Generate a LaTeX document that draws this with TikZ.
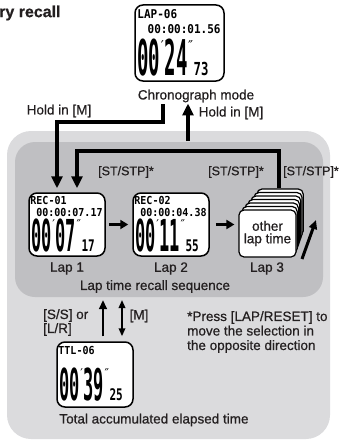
\documentclass[tikz,border=0pt]{standalone}
\usepackage{fontspec}
\usepackage{graphicx}
\setmainfont{Liberation Sans}[FakeBold=0.7]
\newfontfamily\lcdfont{DejaVu Sans Mono}
\newfontfamily\markfont{DejaVu Sans}
\usetikzlibrary{arrows.meta}

\definecolor{outerbg}{RGB}{219,219,221}
\definecolor{innerbg}{RGB}{191,191,194}
\definecolor{ink}{RGB}{35,31,32}

% segment-display style digits
\newcommand\lcdbig[1]{\scalebox{0.85}[2.2]{\fontsize{20}{20}\selectfont\lcdfont\bfseries #1}}
\newcommand\lcdsmall[1]{\scalebox{1.1}[1.6]{\fontsize{10}{10}\selectfont\lcdfont\bfseries #1}}
\newcommand\lcdmark[1]{\hspace{0.5pt}\raisebox{23pt}{\fontsize{12}{12}\selectfont\markfont #1}\hspace{0.5pt}}
\newcommand\lcdline[1]{\scalebox{1}[1.1]{\fontsize{10}{10}\selectfont\lcdfont\bfseries #1}}
\newcommand\lcdtime[3]{\lcdbig{#1}\lcdmark{′}\lcdbig{#2}\lcdmark{″}\lcdsmall{#3}}

\begin{document}
\begin{tikzpicture}[x=1pt,y=-1pt,
  lbl/.style={font=\fontsize{13.5}{15}\selectfont, text=ink, inner sep=0pt},
  lcd/.style={draw=black, line width=1.5pt, fill=white, rounded corners=8pt, inner sep=0pt,
    minimum width=76pt, minimum height=63pt},
  card/.style={draw=black, line width=1.2pt, fill=white, rounded corners=5pt, inner sep=0pt},
  lcdtxt/.style={inner sep=0pt},
  conn/.style={line width=3.6pt, -{Triangle[length=12pt,width=11pt]}},
  stepar/.style={line width=3.4pt, -{Triangle[length=8pt,width=9pt]}},
  upar/.style={line width=2.4pt, -{Triangle[length=9pt,width=7.5pt]}},
  bothar/.style={line width=1.8pt, {Triangle[length=8pt,width=6.5pt]}-{Triangle[length=8pt,width=6.5pt]}}
]
\useasboundingbox (0,0) rectangle (339,444);

% grey panels
\fill[outerbg, rounded corners=24pt] (7,131) rectangle (330,439);
\fill[innerbg, rounded corners=20pt] (15,142) rectangle (323,297);

% heading
\node[lbl, font=\fontsize{16}{18}\selectfont\bfseries, anchor=west] (title) at (-1,13) {ry recall};

% chronograph display
\node[lcd, minimum width=89pt, minimum height=76pt] (chrono) at (179.5,43) {};
\node[lcdtxt, anchor=north west] at ([shift={(3,5)}]chrono.north west) {\scalebox{1.1}{\lcdline{LAP-06}}};
\node[lcdtxt, anchor=north east] at ([shift={(-4,20)}]chrono.north east) {\scalebox{1.1}{\lcdline{00:00:01.56}}};
\node[lcdtxt, anchor=south west] at ([shift={(3,-5)}]chrono.south west) {\scalebox{1.12}{\lcdtime{00}{24}{73}}};
\node[lbl] (modelabel) at (196,96) {Chronograph mode};

% lap displays
\node[lcd] (lap1) at (67,224.5) {};
\node[lcdtxt, anchor=north west] at ([shift={(2,4)}]lap1.north west) {\lcdline{REC-01}};
\node[lcdtxt, anchor=north east] at ([shift={(-3,16)}]lap1.north east) {\lcdline{00:00:07.17}};
\node[lcdtxt, anchor=south west] at ([shift={(3,-4)}]lap1.south west) {\lcdtime{00}{07}{17}};

\node[lcd] (lap2) at (171,224.5) {};
\node[lcdtxt, anchor=north west] at ([shift={(2,4)}]lap2.north west) {\lcdline{REC-02}};
\node[lcdtxt, anchor=north east] at ([shift={(-3,16)}]lap2.north east) {\lcdline{00:00:04.38}};
\node[lcdtxt, anchor=south west] at ([shift={(3,-4)}]lap2.south west) {\lcdtime{00}{11}{55}};

% stack of further laps, each one set a little further back
\foreach \i in {6,...,1}
  \node[card, minimum width={57-1.8*\i}, minimum height=47pt] (card\i)
    at ({267.5+2.1*\i},{233.5-3.5*\i}) {};
\node[card, minimum width=57pt, minimum height=47pt, align=center,
  font=\fontsize{13.5}{12.5}\selectfont, text=ink] (lap3) at (267.5,233.5) {other\\lap time};

\node[lbl] (l1) at (67,268.5) {Lap 1};
\node[lbl] (l2) at (171,268.5) {Lap 2};
\node[lbl] (l3) at (267,268.5) {Lap 3};
\node[lbl] (seqlabel) at (155,286.5) {Lap time recall sequence};

% stepping arrows
\draw[stepar, shorten <=3pt, shorten >=4pt] (lap1.east) -- (lap2.west);
\draw[stepar, shorten <=6pt, shorten >=4pt] (lap2.east) -- (lap2.east -| lap3.west);
\coordinate (d0) at (302,259);
\coordinate (d1) at (316,220);
\draw[line width=3pt, -{Triangle[length=9pt,width=8pt]}] (d0) -- (d1);

% mode change connectors
\coordinate (c1) at (163,104);
\coordinate (j1) at (163,122);
\draw[conn] (c1) -- (j1) -| ([xshift=-10pt,yshift=4pt]lap1.north);
\coordinate (j2) at (279,151);
\draw[conn] (card6.north -| j2) -- (j2) -| ([xshift=10pt,yshift=4pt]lap1.north);
\coordinate (u0) at (188,141);
\draw[conn, shorten >=1pt] (u0) -- (u0 |- modelabel.south);

\node[lbl] (hold1) at (59,111) {Hold in [M]};
\node[lbl] (hold2) at (231,113) {Hold in [M]};
\node[lbl, font=\fontsize{12.5}{14}\selectfont] (st1) at (126,172) {[ST/STP]*};
\node[lbl, font=\fontsize{12.5}{14}\selectfont] (st2) at (236,172) {[ST/STP]*};
\node[lbl, font=\fontsize{12.5}{14}\selectfont] (st3) at (311,172) {[ST/STP]*};

% total display
\node[lcd, minimum height=65pt] (ttl) at (95,374.5) {};
\node[lcdtxt, anchor=north west] at ([shift={(2,5)}]ttl.north west) {\lcdline{TTL-06}};
\node[lcdtxt, anchor=south west] at ([shift={(3,-6)}]ttl.south west) {\lcdtime{00}{39}{25}};
\node[lbl] (total) at (154,420) {Total accumulated elapsed time};

\coordinate (b1) at (103,300);
\coordinate (b2) at (122,300);
\draw[upar] ([yshift=5pt]ttl.north -| b1) -- (b1);
\draw[bothar] ([yshift=5pt]ttl.north -| b2) -- (b2);
\node[lbl, align=left, anchor=north west, font=\fontsize{13.5}{14}\selectfont] (ss) at (43,309) {[S/S] or\\{}[L/R]};
\node[lbl] (mkey) at (139,316) {[M]};

\node[lbl, align=left, anchor=north west, font=\fontsize{13.5}{14.5}\selectfont] (note) at (187,311)
  {*Press [LAP/RESET] to\\move the selection in\\the opposite direction};
\end{tikzpicture}
\end{document}
